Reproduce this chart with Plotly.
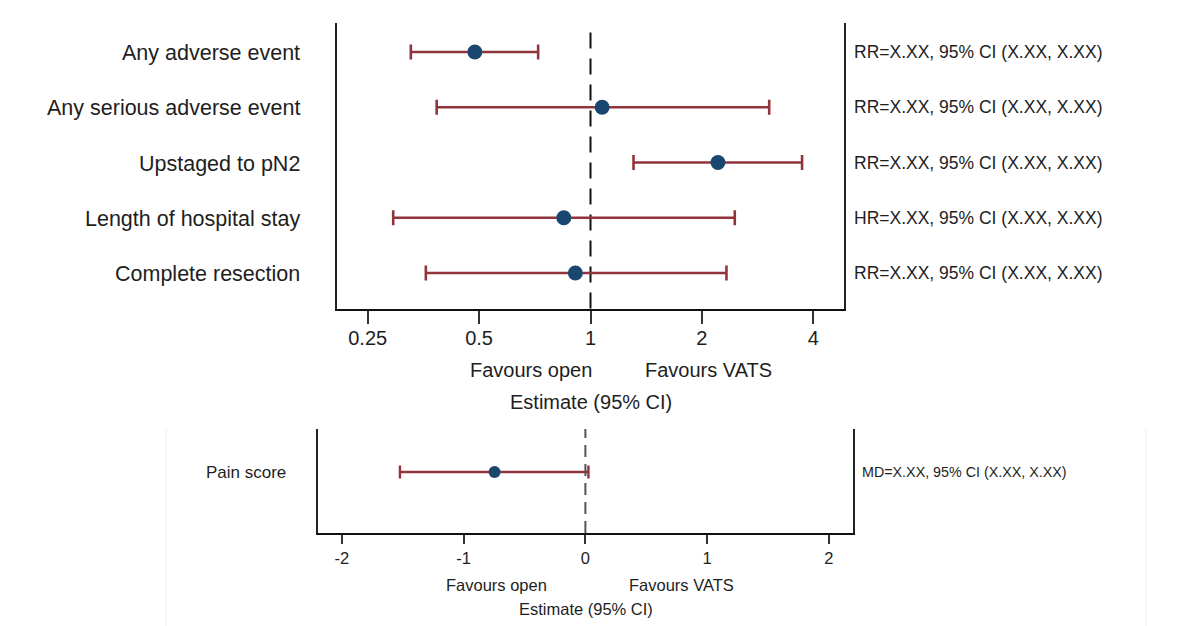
import plotly.graph_objects as go

# ---------------- data ----------------
outcomes = ["Any adverse event", "Any serious adverse event", "Upstaged to pN2",
            "Length of hospital stay", "Complete resection"]
row_pos = [5, 4, 3, 2, 1]
estimates = [0.487, 1.075, 2.21, 0.847, 0.910]
ci_low = [0.327, 0.384, 1.307, 0.293, 0.359]
ci_high = [0.722, 3.04, 3.73, 2.454, 2.33]
effect_text = ["RR=X.XX, 95% CI (X.XX, X.XX)", "RR=X.XX, 95% CI (X.XX, X.XX)",
               "RR=X.XX, 95% CI (X.XX, X.XX)", "HR=X.XX, 95% CI (X.XX, X.XX)",
               "RR=X.XX, 95% CI (X.XX, X.XX)"]
x_ticks = [0.25, 0.5, 1, 2, 4]
x_tick_labels = ["0.25", "0.5", "1", "2", "4"]

pain_outcome = ["Pain score"]
pain_pos = [1]
pain_est = [-0.746]
pain_low = [-1.523]
pain_high = [0.025]
pain_text = ["MD=X.XX, 95% CI (X.XX, X.XX)"]
pain_ticks = [-2, -1, 0, 1, 2]
pain_tick_labels = ["-2", "-1", "0", "1", "2"]

# ---------------- style ----------------
W, H = 1192, 626
NAVY = "#1a476f"
MAROON = "#90353b"
FONT = "Liberation Sans, Arial, sans-serif"
TXT = "#1e1e1e"

def px(x):
    return x / W

def py(y):
    return 1 - y / H

fig = go.Figure()

# top forest plot
fig.add_trace(go.Scatter(
    x=estimates, y=row_pos, mode="markers",
    marker=dict(size=15, color=NAVY),
    error_x=dict(type="data", symmetric=False,
                 array=[h - e for h, e in zip(ci_high, estimates)],
                 arrayminus=[e - l for e, l in zip(estimates, ci_low)],
                 color=MAROON, thickness=2.6, width=7.5),
    xaxis="x", yaxis="y", showlegend=False, hoverinfo="skip"))

# bottom forest plot
fig.add_trace(go.Scatter(
    x=pain_est, y=pain_pos, mode="markers",
    marker=dict(size=12, color=NAVY),
    error_x=dict(type="data", symmetric=False,
                 array=[h - e for h, e in zip(pain_high, pain_est)],
                 arrayminus=[e - l for e, l in zip(pain_est, pain_low)],
                 color=MAROON, thickness=2.4, width=6.5),
    xaxis="x2", yaxis="y2", showlegend=False, hoverinfo="skip"))

shapes = []
# reference lines
shapes.append(dict(type="line", xref="x", yref="y domain", x0=1, x1=1, y0=0, y1=0.985,
                   line=dict(color="#111111", width=2, dash="16px,10px"), layer="below"))
shapes.append(dict(type="line", xref="x2", yref="y2 domain", x0=0, x1=0, y0=0, y1=1,
                   line=dict(color="#555555", width=2, dash="12px,7px"), layer="below"))
# faint frame of the lower panel
for xx in (166, 1146):
    shapes.append(dict(type="line", xref="paper", yref="paper", x0=px(xx), x1=px(xx),
                       y0=py(429), y1=0, line=dict(color="#efefef", width=1)))

annotations = []
for lab, pos, txt in zip(outcomes, row_pos, effect_text):
    annotations.append(dict(text=lab, xref="paper", yref="y", x=px(302), y=pos,
                            xanchor="right", yanchor="middle", yshift=-1, showarrow=False,
                            font=dict(family=FONT, size=21.5, color=TXT)))
    annotations.append(dict(text=txt, xref="paper", yref="y", x=px(852), y=pos,
                            xanchor="left", yanchor="middle", showarrow=False,
                            font=dict(family=FONT, size=17.5, color=TXT)))
for lab, pos, txt in zip(pain_outcome, pain_pos, pain_text):
    annotations.append(dict(text=lab, xref="paper", yref="y2", x=px(288), y=pos,
                            xanchor="right", yanchor="middle", showarrow=False,
                            font=dict(family=FONT, size=17, color=TXT)))
    annotations.append(dict(text=txt, xref="paper", yref="y2", x=px(860), y=pos,
                            xanchor="left", yanchor="middle", showarrow=False,
                            font=dict(family=FONT, size=14.3, color=TXT)))

def label(text, x, y, size):
    annotations.append(dict(text=text, xref="paper", yref="paper", x=px(x), y=py(y),
                            xanchor="center", yanchor="middle", showarrow=False,
                            font=dict(family=FONT, size=size, color=TXT)))

label("Favours open", 531, 370, 20)
label("Favours VATS", 708, 370, 20)
label("Estimate (95% CI)", 591, 402, 20)
label("Favours open", 496, 585, 16.5)
label("Favours VATS", 681, 585, 16.5)
label("Estimate (95% CI)", 586, 609, 16.5)

fig.update_layout(
    width=W, height=H, margin=dict(l=0, r=0, t=0, b=0),
    paper_bgcolor="white", plot_bgcolor="white",
    font=dict(family=FONT, color=TXT),
    shapes=shapes, annotations=annotations,
    xaxis=dict(type="log", domain=[px(337), px(844)], range=[-0.685, 0.685],
               tickvals=x_ticks, ticktext=x_tick_labels, ticks="outside", ticklen=13,
               tickwidth=2, tickcolor="#333333", showline=True, linecolor="#111111",
               linewidth=2, mirror=False, showgrid=False, zeroline=False,
               ticklabelstandoff=-3,
               tickfont=dict(family=FONT, size=20, color=TXT), anchor="y"),
    yaxis=dict(domain=[py(308.5), py(23)], range=[0.3575, 5.525], showticklabels=False,
               ticks="", showline=True, mirror=True, linecolor="#222222", linewidth=2,
               showgrid=False, zeroline=False, anchor="x"),
    xaxis2=dict(domain=[px(317.5), px(853.3)], range=[-2.2, 2.2],
                tickvals=pain_ticks, ticktext=pain_tick_labels, ticks="outside", ticklen=9,
                tickwidth=1.5, tickcolor="#333333", showline=True, linecolor="#111111",
                linewidth=1.5, mirror=False, showgrid=False, zeroline=False,
                tickfont=dict(family=FONT, size=16.5, color=TXT), anchor="y2"),
    yaxis2=dict(domain=[py(533), py(429)], range=[0, 1.705], showticklabels=False,
                ticks="", showline=True, mirror=True, linecolor="#222222", linewidth=1.5,
                showgrid=False, zeroline=False, anchor="x2"),
)

fig.write_html("out.html")
